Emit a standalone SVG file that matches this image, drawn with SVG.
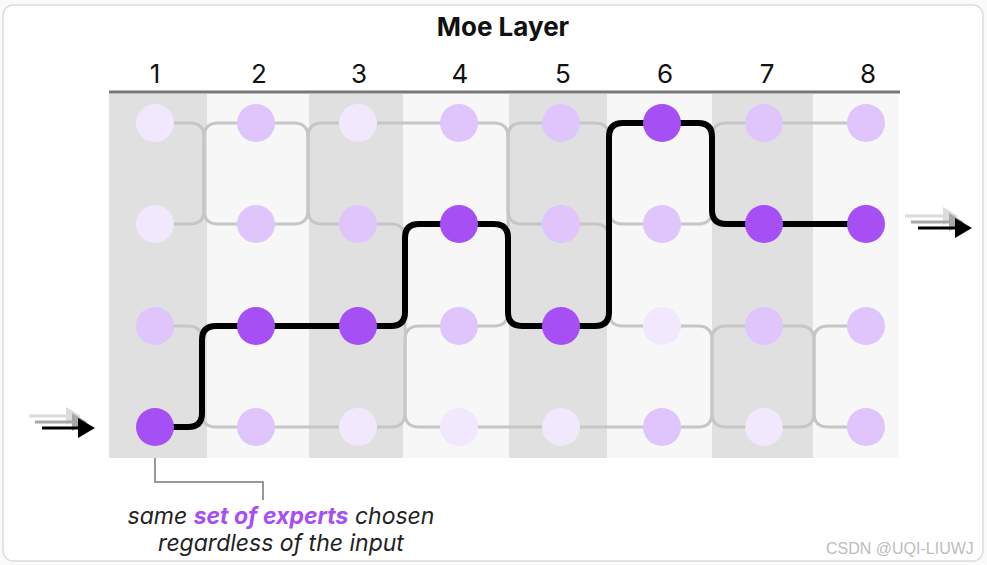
<svg xmlns="http://www.w3.org/2000/svg" width="987" height="565" viewBox="0 0 987 565">
<style>
.bd{fill:#e0e0e0}.bl{fill:#f7f7f7}
.g{fill:none;stroke:#c6c6c6;stroke-width:3;stroke-linejoin:round}
.k{fill:none;stroke:#000;stroke-width:6;stroke-linejoin:round;stroke-linecap:round}
.hi{fill:#a64ff4}.md{fill:#dfc5fb}.lo{fill:#f1e8fd}
.num{font-family:Inter,"Noto Sans",sans-serif;font-size:26px;fill:#111;text-anchor:middle}
.ttl{font-family:Inter,"Noto Sans",sans-serif;font-size:26px;font-weight:700;fill:#111;text-anchor:middle}
.ann{font-family:Inter,"Noto Sans",sans-serif;font-size:23px;font-style:italic;fill:#222;text-anchor:middle}
.ann .p{fill:#a64ff4;font-weight:700}
</style>
<rect x="0" y="0" width="987" height="565" fill="#fafafa"/>
<rect x="3" y="5" width="980" height="556" rx="10" fill="#fff" stroke="#dcdcdc" stroke-width="1.5"/>
<text class="ttl" x="503" y="36">Moe Layer</text>
<g id="col-labels">
<text class="num" x="155" y="83">1</text>
<text class="num" x="259" y="83">2</text>
<text class="num" x="359" y="83">3</text>
<text class="num" x="460" y="83">4</text>
<text class="num" x="563" y="83">5</text>
<text class="num" x="665" y="83">6</text>
<text class="num" x="767" y="83">7</text>
<text class="num" x="868" y="83">8</text>
</g>
<g id="bands">
<rect class="bd" x="109" y="94" width="98" height="364"/>
<rect class="bl" x="207" y="94" width="102" height="364"/>
<rect class="bd" x="309" y="94" width="94" height="364"/>
<rect class="bl" x="403" y="94" width="106" height="364"/>
<rect class="bd" x="509" y="94" width="98" height="364"/>
<rect class="bl" x="607" y="94" width="105" height="364"/>
<rect class="bd" x="712" y="94" width="101" height="364"/>
<rect class="bl" x="813" y="94" width="86" height="364"/>
</g>
<line x1="109" y1="92" x2="900" y2="92" stroke="#777" stroke-width="3"/>
<g id="connectors">
<path class="g" d="M155 123 H190 Q204 123 204 137 V210 Q204 224 218 224 H256"/>
<path class="g" d="M155 224 H190 Q204 224 204 210 V137 Q204 123 218 123 H256"/>
<path class="g" d="M155 326 H188 Q202 326 202 340 V413 Q202 427 216 427 H256"/>
<path class="g" d="M256 123 H294 Q308 123 308 137 V210 Q308 224 322 224 H358"/>
<path class="g" d="M256 224 H294 Q308 224 308 210 V137 Q308 123 322 123 H358"/>
<path class="g" d="M256 427 H358"/>
<path class="g" d="M358 123 H459"/>
<path class="g" d="M358 224 H391 Q405 224 405 238 V413 Q405 427 419 427 H459"/>
<path class="g" d="M358 427 H391 Q405 427 405 413 V340 Q405 326 419 326 H459"/>
<path class="g" d="M459 123 H494 Q508 123 508 137 V210 Q508 224 522 224 H561"/>
<path class="g" d="M459 326 H494 Q508 326 508 312 V137 Q508 123 522 123 H561"/>
<path class="g" d="M459 427 H662"/>
<path class="g" d="M561 123 H595 Q609 123 609 137 V210 Q609 224 623 224 H662"/>
<path class="g" d="M561 224 H595 Q609 224 609 238 V312 Q609 326 623 326 H662"/>
<path class="g" d="M662 224 H698 Q712 224 712 210 V137 Q712 123 726 123 H764"/>
<path class="g" d="M662 326 H698 Q712 326 712 340 V413 Q712 427 726 427 H764"/>
<path class="g" d="M662 427 H698 Q712 427 712 413 V340 Q712 326 726 326 H764"/>
<path class="g" d="M764 123 H866"/>
<path class="g" d="M764 326 H800 Q814 326 814 340 V413 Q814 427 828 427 H866"/>
<path class="g" d="M764 427 H800 Q814 427 814 413 V340 Q814 326 828 326 H866"/>
<path class="k" d="M155 427 H188 Q202 427 202 413 V340 Q202 326 216 326 H391 Q405 326 405 312 V238 Q405 224 419 224 H494 Q508 224 508 238 V312 Q508 326 522 326 H595 Q609 326 609 312 V137 Q609 123 623 123 H698 Q712 123 712 137 V210 Q712 224 726 224 H866"/>
</g>
<g id="n-r1c1"><circle class="lo" cx="155" cy="123" r="19"/></g>
<g id="n-r1c2"><circle class="md" cx="256" cy="123" r="19"/></g>
<g id="n-r1c3"><circle class="lo" cx="358" cy="123" r="19"/></g>
<g id="n-r1c4"><circle class="md" cx="459" cy="123" r="19"/></g>
<g id="n-r1c5"><circle class="md" cx="561" cy="123" r="19"/></g>
<g id="n-r1c6"><circle class="hi" cx="662" cy="123" r="19"/></g>
<g id="n-r1c7"><circle class="md" cx="764" cy="123" r="19"/></g>
<g id="n-r1c8"><circle class="md" cx="866" cy="123" r="19"/></g>
<g id="n-r2c1"><circle class="lo" cx="155" cy="224" r="19"/></g>
<g id="n-r2c2"><circle class="md" cx="256" cy="224" r="19"/></g>
<g id="n-r2c3"><circle class="md" cx="358" cy="224" r="19"/></g>
<g id="n-r2c4"><circle class="hi" cx="459" cy="224" r="19"/></g>
<g id="n-r2c5"><circle class="md" cx="561" cy="224" r="19"/></g>
<g id="n-r2c6"><circle class="md" cx="662" cy="224" r="19"/></g>
<g id="n-r2c7"><circle class="hi" cx="764" cy="224" r="19"/></g>
<g id="n-r2c8"><circle class="hi" cx="866" cy="224" r="19"/></g>
<g id="n-r3c1"><circle class="md" cx="155" cy="326" r="19"/></g>
<g id="n-r3c2"><circle class="hi" cx="256" cy="326" r="19"/></g>
<g id="n-r3c3"><circle class="hi" cx="358" cy="326" r="19"/></g>
<g id="n-r3c4"><circle class="md" cx="459" cy="326" r="19"/></g>
<g id="n-r3c5"><circle class="hi" cx="561" cy="326" r="19"/></g>
<g id="n-r3c6"><circle class="lo" cx="662" cy="326" r="19"/></g>
<g id="n-r3c7"><circle class="md" cx="764" cy="326" r="19"/></g>
<g id="n-r3c8"><circle class="md" cx="866" cy="326" r="19"/></g>
<g id="n-r4c1"><circle class="hi" cx="155" cy="427" r="19"/></g>
<g id="n-r4c2"><circle class="md" cx="256" cy="427" r="19"/></g>
<g id="n-r4c3"><circle class="lo" cx="358" cy="427" r="19"/></g>
<g id="n-r4c4"><circle class="lo" cx="459" cy="427" r="19"/></g>
<g id="n-r4c5"><circle class="lo" cx="561" cy="427" r="19"/></g>
<g id="n-r4c6"><circle class="md" cx="662" cy="427" r="19"/></g>
<g id="n-r4c7"><circle class="lo" cx="764" cy="427" r="19"/></g>
<g id="n-r4c8"><circle class="md" cx="866" cy="427" r="19"/></g>
<g id="io-arrows">
<line x1="29" y1="416" x2="70" y2="416" stroke="#dcdcdc" stroke-width="3"/>
<polygon points="66,407 81,416 66,425" fill="#dcdcdc"/>
<line x1="35" y1="422" x2="76" y2="422" stroke="#a8a8a8" stroke-width="3"/>
<polygon points="72,413 87,422 72,431" fill="#a8a8a8"/>
<line x1="42" y1="428" x2="82" y2="428" stroke="#000" stroke-width="3"/>
<polygon points="78,418 95,428 78,438" fill="#000"/>
<line x1="905" y1="216" x2="946" y2="216" stroke="#dcdcdc" stroke-width="3"/>
<polygon points="943,207 958,216 943,225" fill="#dcdcdc"/>
<line x1="911" y1="222" x2="952" y2="222" stroke="#a8a8a8" stroke-width="3"/>
<polygon points="949,213 964,222 949,231" fill="#a8a8a8"/>
<line x1="918" y1="228" x2="958" y2="228" stroke="#000" stroke-width="3"/>
<polygon points="955,218 972,228 955,238" fill="#000"/>
</g>
<g id="annotation">
<path d="M155 458 V482 H263 V500" fill="none" stroke="#777" stroke-width="1.5"/>
<text class="ann" x="281" y="524">same <tspan class="p">set of experts</tspan> chosen</text>
<text class="ann" x="281" y="551">regardless of the input</text>
</g>
<text x="826" y="554" font-family="'Liberation Sans',Arial,sans-serif" font-size="16" fill="#bdbdbd">CSDN @UQI-LIUWJ</text>
</svg>
